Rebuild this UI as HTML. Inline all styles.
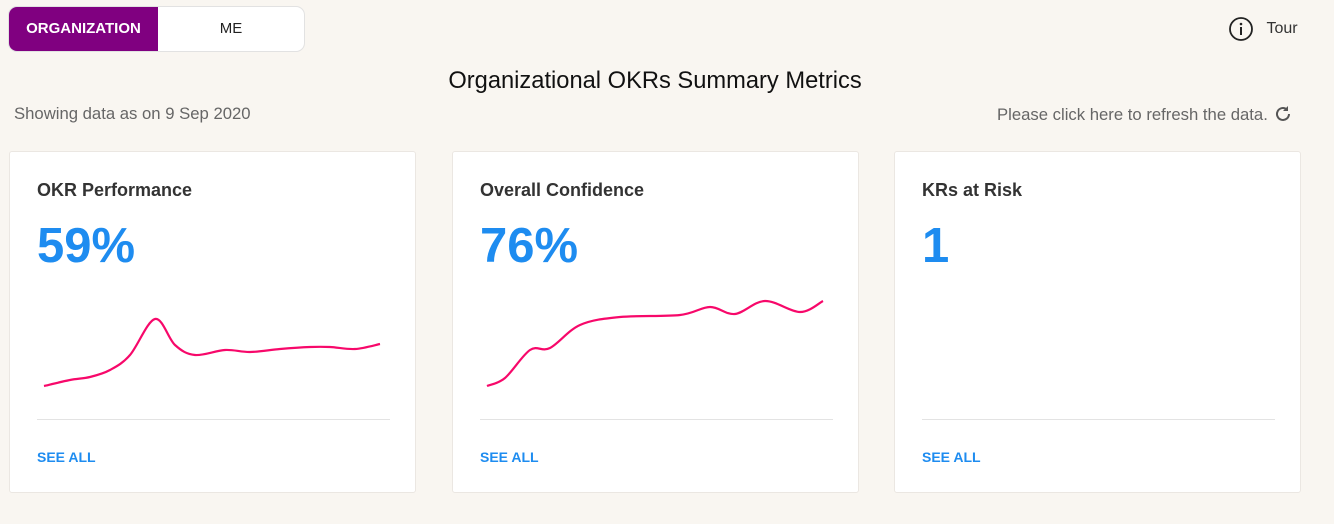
<!DOCTYPE html>
<html><head><meta charset="utf-8"><style>
body{margin:0;width:1334px;height:524px;background:#f9f6f1;font-family:"Liberation Sans",sans-serif;position:relative;overflow:hidden;color:#222}
.abs{position:absolute}
.toggle{left:8px;top:6px;width:295px;height:44px;border:1px solid #e2e2e2;border-radius:9px;background:#fff;overflow:hidden}
.org{left:0;top:0;width:149px;height:44px;background:#800080;color:#fff;font-size:15px;font-weight:bold;text-align:center;line-height:44px}
.me{left:149px;top:0;width:146px;height:44px;color:#222;font-size:15px;text-align:center;line-height:44px}
.card{top:151px;width:407px;height:342px;background:#fff;border:1px solid #ebe7e2;border-radius:3px;box-sizing:border-box}
.ct{left:27px;top:28px;font-size:18px;font-weight:bold;color:#333}
.big{left:27px;top:66px;font-size:49px;font-weight:bold;color:#1e8cf0}
.div{left:27px;top:267px;width:353px;height:1px;background:#e3e3e3}
.see{left:27px;top:297px;font-size:14px;font-weight:bold;color:#1e8cf0}
</style></head><body>
<div class="abs toggle">
<div class="abs org">ORGANIZATION</div>
<div class="abs me">ME</div></div>
<div class="abs" style="left:1228px;top:16px;">
<svg width="26" height="26" style="vertical-align:middle"><circle cx="13" cy="13" r="11" fill="none" stroke="#222" stroke-width="1.8"/><rect x="12" y="11" width="2" height="8" fill="#222"/><circle cx="13" cy="8" r="1.3" fill="#222"/></svg>
<span style="font-size:16px;color:#333;margin-left:8px;vertical-align:middle">Tour</span></div>
<div class="abs" style="left:0;width:1310px;top:68px;text-align:center;font-size:23.7px;color:#111">Organizational OKRs Summary Metrics</div>
<div class="abs" style="left:14px;top:104px;font-size:16.7px;color:#666">Showing data as on 9 Sep 2020</div>
<div class="abs" style="left:997px;top:104px;font-size:16.7px;color:#666">Please click here to refresh the data.
<svg width="20" height="20" style="vertical-align:-4px"><path d="M16 10a6 6 0 1 1-2-4.5" fill="none" stroke="#555" stroke-width="2"/><path d="M15 2v5h-5z" fill="#555"/></svg></div>

<div class="abs card" style="left:9px">
<div class="abs ct">OKR Performance</div>
<div class="abs big">59%</div>
<div class="abs div"></div>
<div class="abs see">SEE ALL</div></div>
<div class="abs card" style="left:452px">
<div class="abs ct">Overall Confidence</div>
<div class="abs big">76%</div>
<div class="abs div"></div>
<div class="abs see">SEE ALL</div></div>
<div class="abs card" style="left:894px">
<div class="abs ct">KRs at Risk</div>
<div class="abs big">1</div>
<div class="abs div"></div>
<div class="abs see">SEE ALL</div></div>

<svg class="abs" style="left:0;top:0" width="1334" height="524" id="spark"></svg>
<script>
const perfDays=[0,26,46,66,86,111,131,151,181,206,236,266,286,311,336];
const perfValues=[14,20,23,30,45,81,55,45,50,48,51,53,53,51,56];
const confDays=[0,18,43,63,93,133,193,223,248,278,313,336];
const confValues=[14,22,50,52,75,83,85,93,86,99,88,99];
function path(days,vals,x0){
  const xs=d=>x0+d, ys=v=>400-v;
  const p=days.map((d,i)=>[xs(d),ys(vals[i])]);
  let s='M'+p[0][0]+','+p[0][1];
  for(let i=0;i<p.length-1;i++){
    const a=p[i-1]||p[i],b=p[i],c=p[i+1],e=p[i+2]||c;
    s+=` C${b[0]+(c[0]-a[0])/6},${b[1]+(c[1]-a[1])/6} ${c[0]-(e[0]-b[0])/6},${c[1]-(e[1]-b[1])/6} ${c[0]},${c[1]}`;
  }
  return s;
}
const svg=document.getElementById('spark');
[[perfDays,perfValues,44,'okr-performance-line'],[confDays,confValues,487,'confidence-line']].forEach(([d,v,x,n])=>{
  const el=document.createElementNS('http://www.w3.org/2000/svg','path');
  el.setAttribute('d',path(d,v,x));
  el.setAttribute('fill','none');el.setAttribute('stroke','#f7086a');el.setAttribute('stroke-width','2.2');
  
  
  svg.appendChild(el);
});
</script>
</body></html>
